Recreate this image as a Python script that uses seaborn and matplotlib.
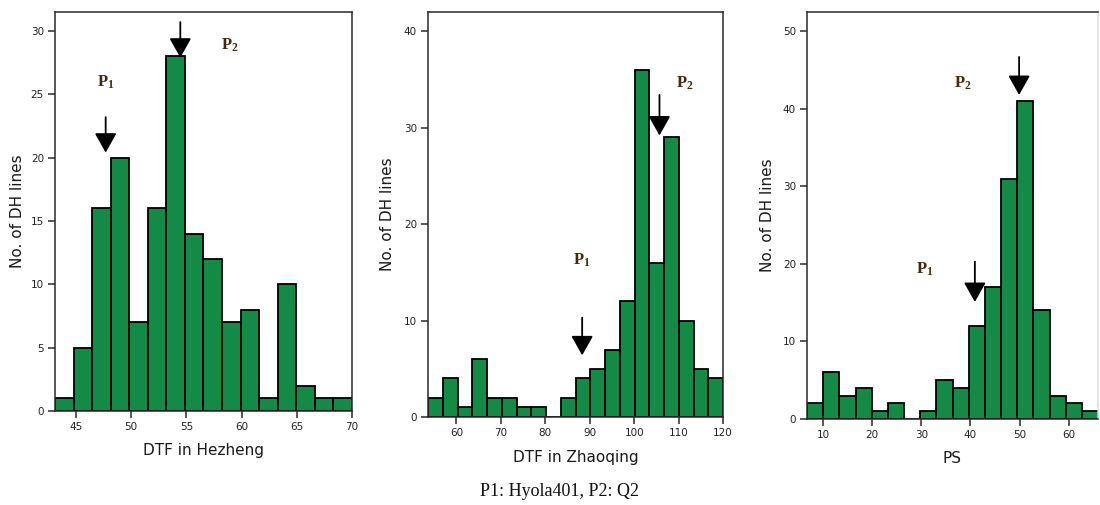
import numpy as np
import pandas as pd
import matplotlib
matplotlib.use("Agg")
import matplotlib.pyplot as plt
import seaborn as sns

# ---------------- data ----------------
hez_counts = [1, 5, 16, 20, 7, 16, 28, 14, 12, 7, 8, 1, 10, 2, 1, 1]
hez_range = [43.1, 70.0]
zhao_counts = [2, 4, 1, 6, 2, 2, 1, 1, 0, 2, 4, 5, 7, 12, 36, 16, 29, 10, 5, 4]
zhao_range = [53.6, 120.0]
ps_counts = [2, 6, 3, 4, 1, 2, 0, 1, 5, 4, 12, 17, 31, 41, 14, 3, 2, 1]
ps_range = [6.75, 65.95]

hez_xticks = [45, 50, 55, 60, 65, 70]
hez_yticks = [0, 5, 10, 15, 20, 25, 30]
zhao_xticks = [60, 70, 80, 90, 100, 110, 120]
zhao_yticks = [0, 10, 20, 30, 40]
ps_xticks = [10, 20, 30, 40, 50, 60]
ps_yticks = [0, 10, 20, 30, 40, 50]

xlabels = ["DTF in Hezheng", "DTF in Zhaoqing", "PS"]
ylabel = "No. of DH lines"
footer = "P1: Hyola401, P2: Q2"

# annotation positions (data coords): (label x, label y), (arrow x, arrow top, arrow tip)
hez_p1 = [(47.7, 26.0), (47.69, 23.2, 20.4)]
hez_p2 = [(58.95, 28.9), (54.45, 30.7, 27.9)]
zhao_p1 = [(88.2, 16.3), (88.3, 10.3, 6.4)]
zhao_p2 = [(111.5, 34.6), (105.7, 33.4, 29.2)]
ps_p1 = [(30.75, 19.4), (40.9, 20.3, 15.1)]
ps_p2 = [(38.4, 43.4), (49.9, 46.7, 41.8)]

# ---------------- style ----------------
sns.set_style("ticks")
plt.rcParams["font.family"] = ["DejaVu Sans"]
plt.rcParams["mathtext.fontset"] = "custom"
plt.rcParams["mathtext.rm"] = "Liberation Serif:bold"
plt.rcParams["mathtext.it"] = "Liberation Serif:bold"
plt.rcParams["mathtext.bf"] = "Liberation Serif:bold"

BAR = "#138B46"
SPINE = "#2a2a2a"

fig = plt.figure(figsize=(11, 5.05), dpi=100)
W, H = 1100, 505

def px_axes(l, r, t, b):
    return fig.add_axes([l / W, (H - b) / H, (r - l) / W, (b - t) / H])

axes = [px_axes(55, 352, 12, 411), px_axes(428, 723, 12, 417), px_axes(807, 1098, 12, 419)]

panels = [
    (hez_counts, hez_range, hez_xticks, hez_yticks, 31.5, hez_p1, hez_p2, (-0.125, -0.098)),
    (zhao_counts, zhao_range, zhao_xticks, zhao_yticks, 42.0, zhao_p1, zhao_p2, (-0.136, -0.10)),
    (ps_counts, ps_range, ps_xticks, ps_yticks, 52.5, ps_p1, ps_p2, (-0.137, -0.096)),
]

for i, (ax, (counts, rng, xt, yt, ytop, p1, p2, lc)) in enumerate(zip(axes, panels)):
    edges = [float(e) for e in np.linspace(rng[0], rng[1], len(counts) + 1)]
    centers = [(edges[j] + edges[j + 1]) / 2 for j in range(len(counts))]
    df = pd.DataFrame({"x": centers, "n": counts})
    sns.histplot(data=df, x="x", weights="n", bins=edges, color=BAR,
                 edgecolor="black", linewidth=1.3, alpha=1.0, ax=ax)
    ax.set_xlim(rng[0], rng[1])
    ax.set_ylim(0, ytop)
    ax.set_xticks(xt)
    ax.set_yticks(yt)
    ax.tick_params(axis="both", direction="out", length=5, width=1.1,
                   color=SPINE, labelsize=7.5, labelcolor="#222222", pad=3)
    for s in ax.spines.values():
        s.set_visible(True)
        s.set_linewidth(1.1)
        s.set_color(SPINE)
    if i == 2:
        ax.spines["right"].set_color("#dddddd")
    ax.set_xlabel(xlabels[i], fontsize=11, color="#1a1a1a")
    ax.set_ylabel(ylabel, fontsize=11, color="#1a1a1a")
    ax.yaxis.set_label_coords(lc[0], 0.5)
    ax.xaxis.set_label_coords(0.5, lc[1])
    ax.xaxis.label.set_va("center")
    ax.yaxis.label.set_va("center")

    for k, p in enumerate([p1, p2]):
        (lx, ly), (axx, ay0, ay1) = p
        ax.text(lx, ly, r"$\mathrm{P}_{%d}$" % (k + 1), fontsize=12,
                color="#3d2b12", ha="center", va="center")
        ax.annotate("", xy=(axx, ay1), xytext=(axx, ay0),
                    arrowprops=dict(arrowstyle="-|>,head_length=0.8,head_width=0.45",
                                    mutation_scale=15, color="black", lw=1.3,
                                    shrinkA=0, shrinkB=0))

fig.text(559 / W, (H - 492) / H, footer, fontsize=13, family="Liberation Serif",
         ha="center", va="center", color="#111111")

fig.savefig("out.png", dpi=100)
